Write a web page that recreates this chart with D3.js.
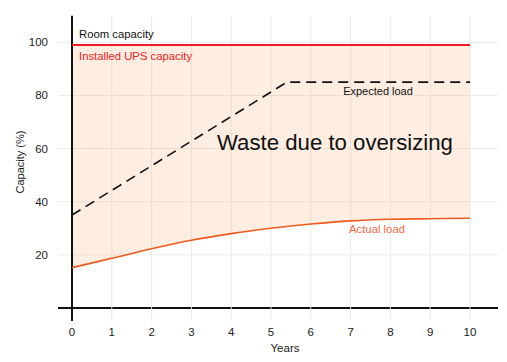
<!DOCTYPE html>
<html>
<head>
<meta charset="utf-8">
<script src="https://cdn.jsdelivr.net/npm/d3@7"></script>
<style>
  html, body { margin: 0; padding: 0; background: #fff; }
  svg { display: block; font-family: "Liberation Sans", Arial, sans-serif; }
</style>
</head>
<body>
<svg id="chart" width="507" height="362"></svg>
<script>
// ---- data ----
const years = [0, 1, 2, 3, 4, 5, 6, 7, 8, 9, 10];
const actualLoad = [15.2, 18.7, 22.3, 25.5, 28.0, 30.0, 31.6, 32.8, 33.4, 33.6, 33.8];
const expectedYears = [0, 5.4, 10];
const expectedLoad = [35, 85, 85];
const upsCapacity = 99;
const xTicks = [0, 1, 2, 3, 4, 5, 6, 7, 8, 9, 10];
const yTicks = [20, 40, 60, 80, 100];

const svg = d3.select("#chart");
const x = d3.scaleLinear().domain([0, 10]).range([72, 470]);
const y = d3.scaleLinear().domain([0, 110]).range([308, 15.7]);

// gridlines
const grid = svg.append("g");
grid.selectAll(".hg").data(yTicks).join("line")
  .attr("x1", 58).attr("x2", 498)
  .attr("y1", d => y(d)).attr("y2", d => y(d))
  .attr("stroke", "#ebebeb").attr("stroke-width", 1);
grid.selectAll(".vg").data(xTicks).join("line")
  .attr("x1", d => x(d)).attr("x2", d => x(d))
  .attr("y1", y(110)).attr("y2", 321)
  .attr("stroke", "#ebebeb").attr("stroke-width", 1);

const curve = d3.curveCatmullRom.alpha(0.5);

// waste area between actual load and UPS capacity
const pts = years.map((t, i) => ({ t, v: actualLoad[i] }));
const area = d3.area()
  .x(d => x(d.t))
  .y0(d => y(d.v))
  .y1(() => y(upsCapacity))
  .curve(curve);
svg.append("path").datum(pts)
  .attr("d", area)
  .attr("fill", "#f9a66a").attr("fill-opacity", 0.2);

// axes lines
svg.append("line").attr("x1", 58).attr("x2", 498).attr("y1", y(0)).attr("y2", y(0))
  .attr("stroke", "#111").attr("stroke-width", 2);
svg.append("line").attr("x1", x(0)).attr("x2", x(0)).attr("y1", y(110)).attr("y2", 321)
  .attr("stroke", "#111").attr("stroke-width", 2);
// light tick marks crossing the x axis
svg.append("g").selectAll("line").data(xTicks.slice(1)).join("line")
  .attr("x1", d => x(d)).attr("x2", d => x(d))
  .attr("y1", y(0) - 1).attr("y2", y(0) + 1)
  .attr("stroke", "#dddddd").attr("stroke-width", 1);

// UPS capacity line
svg.append("line").attr("x1", x(0)).attr("x2", x(10))
  .attr("y1", y(upsCapacity)).attr("y2", y(upsCapacity))
  .attr("stroke", "#ec1c24").attr("stroke-width", 2);

// expected load
const line = d3.line().x(d => x(d.t)).y(d => y(d.v));
svg.append("path").datum(expectedYears.map((t, i) => ({ t, v: expectedLoad[i] })))
  .attr("d", line)
  .attr("fill", "none").attr("stroke", "#111").attr("stroke-width", 1.6)
  .attr("stroke-dasharray", "10,6");

// actual load
svg.append("path").datum(pts)
  .attr("d", d3.line().x(d => x(d.t)).y(d => y(d.v)).curve(curve))
  .attr("fill", "none").attr("stroke", "#f05a1e").attr("stroke-width", 1.6);

// tick labels
svg.append("g").selectAll("text").data(yTicks).join("text")
  .attr("x", 48).attr("y", d => y(d) + 4)
  .attr("text-anchor", "end").attr("font-size", 11.5).attr("fill", "#222")
  .text(d => d);
svg.append("g").selectAll("text").data(xTicks).join("text")
  .attr("x", d => x(d)).attr("y", 336)
  .attr("text-anchor", "middle").attr("font-size", 11.5).attr("fill", "#222")
  .text(d => d);

// axis titles
svg.append("text").attr("x", 285).attr("y", 352)
  .attr("text-anchor", "middle").attr("font-size", 11.5).attr("fill", "#222")
  .text("Years");
svg.append("text")
  .attr("transform", "translate(24,162) rotate(-90)")
  .attr("text-anchor", "middle").attr("font-size", 11).attr("fill", "#222")
  .text("Capacity (%)");

// annotations
svg.append("text").attr("x", 79).attr("y", 38)
  .attr("font-size", 11.3).attr("fill", "#111").text("Room capacity");
svg.append("text").attr("x", 79).attr("y", 59.5)
  .attr("font-size", 11.3).attr("fill", "#ec1c24").text("Installed UPS capacity");
svg.append("text").attr("x", 378).attr("y", 94.5)
  .attr("text-anchor", "middle").attr("font-size", 11).attr("fill", "#111").text("Expected load");
svg.append("text").attr("x", 377).attr("y", 233)
  .attr("text-anchor", "middle").attr("font-size", 11.3).attr("fill", "#f26a45").text("Actual load");
svg.append("text").attr("x", 217).attr("y", 149.5)
  .attr("font-size", 22.2).attr("fill", "#111").text("Waste due to oversizing");
</script>
</body>
</html>
